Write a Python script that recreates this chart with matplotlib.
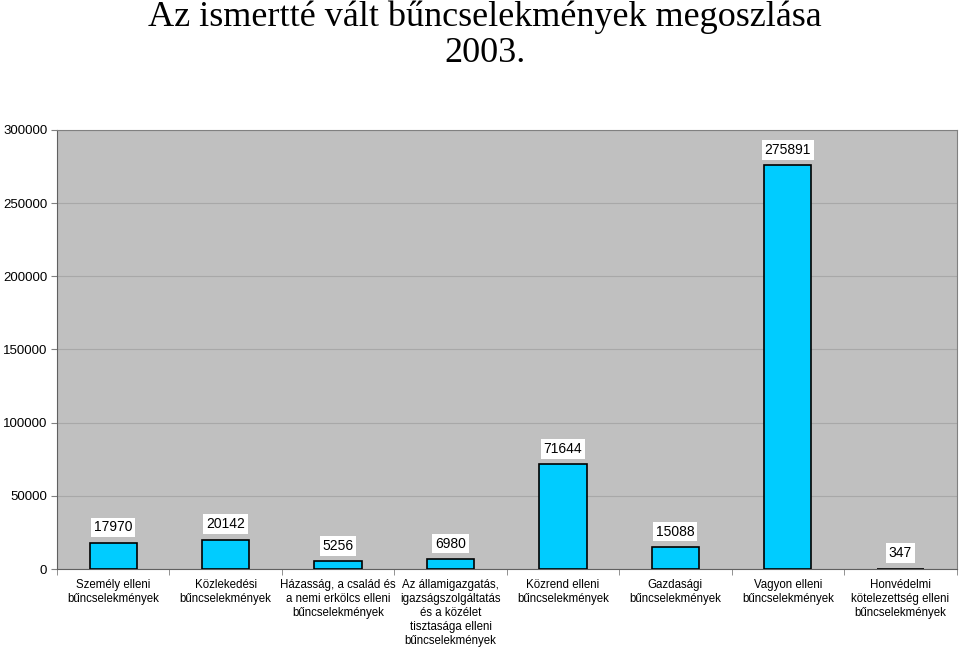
import numpy as np
import matplotlib
matplotlib.use('Agg')
import matplotlib.pyplot as plt

plt.rcParams['font.family'] = ['Liberation Sans', 'DejaVu Sans']

# Kategóriák és értékek
kategoriak = ['Személy elleni\nbűncselekmények',
              'Közlekedési\nbűncselekmények',
              'Házasság, a család és\na nemi erkölcs elleni\nbűncselekmények',
              'Az államigazgatás,\nigazságszolgáltatás\nés a közélet\ntisztasága elleni\nbűncselekmények',
              'Közrend elleni\nbűncselekmények',
              'Gazdasági\nbűncselekmények',
              'Vagyon elleni\nbűncselekmények',
              'Honvédelmi\nkötelezettség elleni\nbűncselekmények']
ertekek = [17970, 20142, 5256, 6980, 71644, 15088, 275891, 347]
cim = 'Az ismertté vált bűncselekmények megoszlása\n2003.'

fig = plt.figure(figsize=(9.59, 6.48), dpi=100)
ax = fig.add_axes([0.0594, 0.1219, 0.938, 0.6775])
ax.set_facecolor('#c0c0c0')

x = np.arange(len(ertekek))
ax.bar(x, ertekek, width=0.42, color='#00ccff', edgecolor='black', linewidth=1.2, zorder=3)

for xi, v in zip(x, ertekek):
    ax.annotate(str(v), (xi, v), xytext=(0, 11), textcoords='offset points',
                ha='center', va='center', fontsize=10,
                bbox=dict(boxstyle='square,pad=0.2', fc='white', ec='none'), zorder=4)

ax.set_xlim(-0.5, len(ertekek) - 0.5)
ax.set_ylim(0, 300000)
ax.set_yticks(np.arange(0, 300001, 50000))
ax.yaxis.grid(True, color='#a8a8a8', linewidth=0.8, zorder=0)
ax.set_xticks(x)
ax.set_xticklabels(kategoriak, fontsize=8.3, linespacing=1.22)
ax.tick_params(axis='x', length=0, pad=7)
ax.set_xticks(np.arange(-0.5, len(ertekek), 1), minor=True)
ax.tick_params(axis='x', which='minor', length=4, color='#808080')
ax.tick_params(axis='y', labelsize=9.5, length=4, color='#808080', pad=3)

for s in ['top', 'right']:
    ax.spines[s].set_color('#808080')
for s in ['left', 'bottom']:
    ax.spines[s].set_color('#606060')

fig.text(0.506, 1.0, cim, ha='center', va='top', fontsize=26,
         family='Liberation Serif', linespacing=1.15)

fig.savefig('out.png', dpi=100)
